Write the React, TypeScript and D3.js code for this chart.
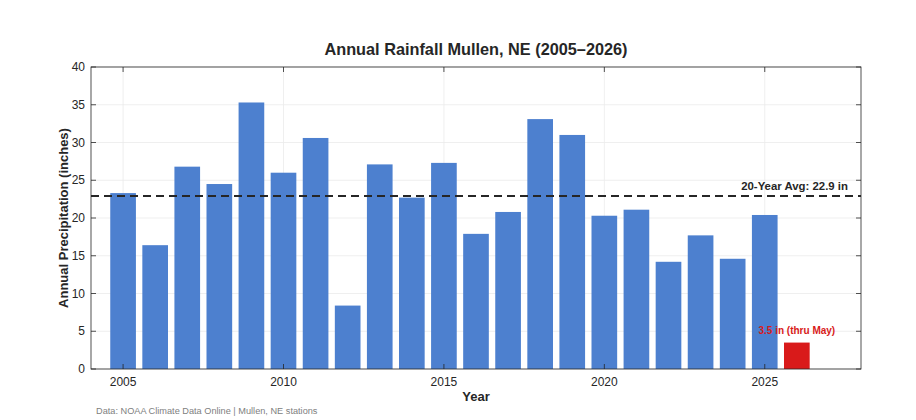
import * as d3 from "d3";

const years = [2005, 2006, 2007, 2008, 2009, 2010, 2011, 2012, 2013, 2014, 2015, 2016, 2017, 2018, 2019, 2020, 2021, 2022, 2023, 2024, 2025, 2026];
const rainfall = [23.3, 16.4, 26.8, 24.5, 35.3, 26.0, 30.6, 8.4, 27.1, 22.7, 27.3, 17.9, 20.8, 33.1, 31.0, 20.3, 21.1, 14.2, 17.7, 14.6, 20.4, 3.5];
const partialYear = 2026;
const average = 22.9;
const xTicks = [2005, 2010, 2015, 2020, 2025];
const yTicks = [0, 5, 10, 15, 20, 25, 30, 35, 40];

const W = 916;
const H = 420;
const m = { left: 91, right: 55, top: 67, bottom: 51 };
const font = "'Liberation Sans', Arial, Helvetica, sans-serif";

export default function App() {
  const x = d3.scaleLinear().domain([2004, 2028]).range([m.left, W - m.right]);
  const y = d3.scaleLinear().domain([0, 40]).range([H - m.bottom, m.top]);
  const barW = x(2004.8) - x(2004);
  const x0 = m.left, x1 = W - m.right, y0 = H - m.bottom, y1 = m.top;
  const tk = 5;

  return (
    <svg width={W} height={H} style={{ position: "absolute", left: 0, top: 0, background: "#fff" }} fontFamily={font}>
      {/* grid */}
      {yTicks.map((t) => (
        <line key={"gy" + t} x1={x0} x2={x1} y1={y(t)} y2={y(t)} stroke="#ebebeb" strokeWidth={0.8} />
      ))}
      {xTicks.map((t) => (
        <line key={"gx" + t} x1={x(t)} x2={x(t)} y1={y0} y2={y1} stroke="#ebebeb" strokeWidth={0.8} />
      ))}

      {/* bars */}
      {years.map((yr, i) => (
        <rect
          key={yr}
          x={x(yr) - barW / 2}
          y={y(rainfall[i])}
          width={barW}
          height={y(0) - y(rainfall[i])}
          fill={yr === partialYear ? "#d91a1a" : "#4d80cf"}
        />
      ))}

      {/* average line */}
      <line x1={x0} x2={x1} y1={y(average)} y2={y(average)} stroke="#262626" strokeWidth={2} strokeDasharray="8,5" />
      <text x={x1 - 13} y={y(average) - 6} textAnchor="end" fontSize={11.4} fontWeight="bold" fill="#262626">
        20-Year Avg: {average} in
      </text>
      <text x={x(partialYear)} y={y(3.5) - 9} textAnchor="middle" fontSize={10} fontWeight="bold" fill="#d91a1a">
        3.5 in (thru May)
      </text>

      {/* box */}
      <rect x={x0} y={y1} width={x1 - x0} height={y0 - y1} fill="none" stroke="#262626" strokeWidth={0.8} />

      {/* ticks */}
      {yTicks.map((t) => (
        <g key={"ty" + t}>
          <line x1={x0} x2={x0 + tk} y1={y(t)} y2={y(t)} stroke="#262626" strokeWidth={0.8} />
          <line x1={x1} x2={x1 - tk} y1={y(t)} y2={y(t)} stroke="#262626" strokeWidth={0.8} />
          <text x={x0 - 6} y={y(t)} dy="0.35em" textAnchor="end" fontSize={12} fill="#262626">
            {t}
          </text>
        </g>
      ))}
      {xTicks.map((t) => (
        <g key={"tx" + t}>
          <line x1={x(t)} x2={x(t)} y1={y0} y2={y0 - tk} stroke="#262626" strokeWidth={0.8} />
          <line x1={x(t)} x2={x(t)} y1={y1} y2={y1 + tk} stroke="#262626" strokeWidth={0.8} />
          <text x={x(t)} y={y0 + 17} textAnchor="middle" fontSize={12} fill="#262626">
            {t}
          </text>
        </g>
      ))}

      {/* labels */}
      <text x={(x0 + x1) / 2} y={55} textAnchor="middle" fontSize={16.3} fontWeight="bold" fill="#262626">
        Annual Rainfall Mullen, NE (2005–2026)
      </text>
      <text x={(x0 + x1) / 2} y={401} textAnchor="middle" fontSize={13} fontWeight="bold" fill="#262626">
        Year
      </text>
      <text
        transform={`translate(68,${(y0 + y1) / 2}) rotate(-90)`}
        textAnchor="middle"
        fontSize={13}
        fontWeight="bold"
        fill="#262626"
      >
        Annual Precipitation (inches)
      </text>
      <text x={96} y={414} fontSize={9.2} fill="#808080">
        Data: NOAA Climate Data Online | Mullen, NE stations
      </text>
    </svg>
  );
}
